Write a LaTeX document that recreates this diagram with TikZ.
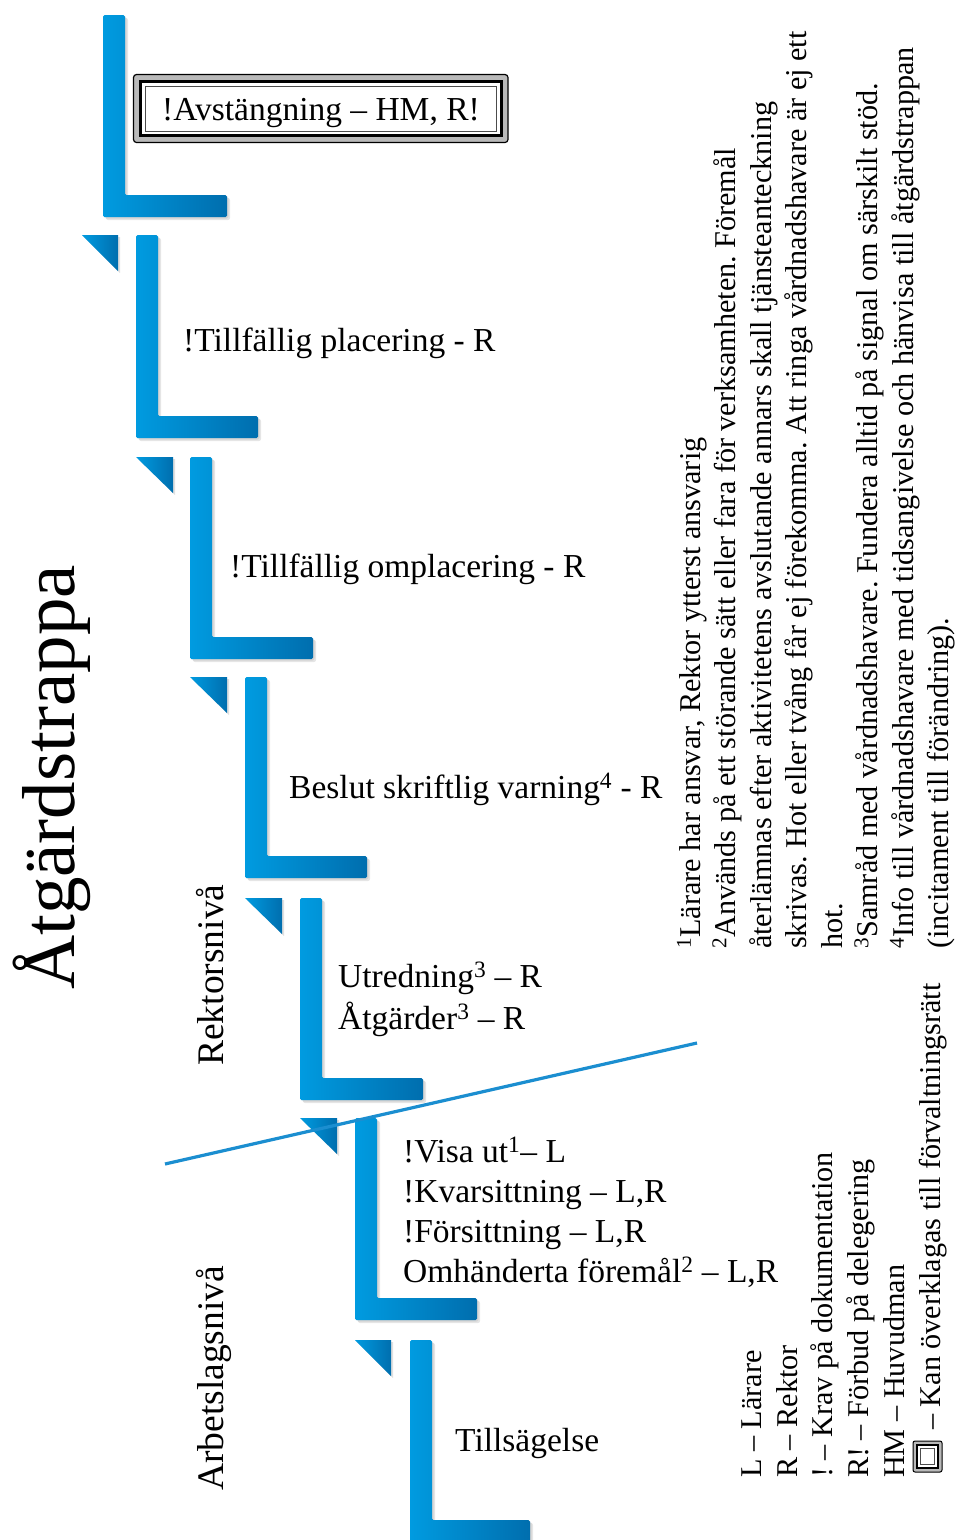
\documentclass[tikz,border=0pt]{standalone}
\usepackage{fontspec}
\setmainfont{Liberation Serif}
\frenchspacing
\definecolor{lb}{HTML}{009BE0}
\definecolor{db}{HTML}{006EAE}
\definecolor{lineblue}{HTML}{1B8ED0}
\newcommand\stair[4]{%
  \fill[black,opacity=.10,rounded corners=2] (#1+3,#2+3) -- (#1+25,#2+3) -- (#1+25,#3-19) -- (#4+3,#3-19) -- (#4+3,#3+3) -- (#1+3,#3+3) -- cycle;
  \fill[black,opacity=.08,rounded corners=2] (#1+1.5,#2+1.5) -- (#1+23.5,#2+1.5) -- (#1+23.5,#3-20.5) -- (#4+1.5,#3-20.5) -- (#4+1.5,#3+1.5) -- (#1+1.5,#3+1.5) -- cycle;
  \shade[left color=lb,middle color=lb,right color=db,rounded corners=1.5] (#1,#2) -- (#1+22,#2) -- (#1+22,#3-22) -- (#4,#3-22) -- (#4,#3) -- (#1,#3) -- cycle;}
\newcommand\stairtri[3]{%
  \fill[black,opacity=.12] (#1+2,#3+2) -- (#2+2,#3+2) -- (#2+2,#3+38) -- cycle;
  \shade[left color=lb,right color=db] (#1,#3) -- (#2,#3) -- (#2,#3+36) -- cycle;}
\begin{document}
\begin{tikzpicture}[x=1pt,y=-1pt,
  lbl/.style={font=\fontsize{33.5}{40}\selectfont, inner sep=0pt, anchor=base west},
  note/.style={font=\fontsize{30.2}{36}\selectfont, inner sep=0pt, anchor=base west, rotate=90},
  level/.style={font=\fontsize{37.5}{44}\selectfont, inner sep=0pt, anchor=base west, rotate=90}]
\useasboundingbox (0,0) rectangle (956,1540);
\fill[white] (0,0) rectangle (956,1540);

% steps
\stair{103}{15}{217}{227}
\stair{136}{235}{438}{258}
\stair{190}{457}{659}{313}
\stair{245}{677}{878}{367}
\stair{300}{898}{1100}{423}
\stair{355}{1118}{1320}{477}
\stair{410}{1340}{1542}{530}
\stairtri{82}{118}{235}
\stairtri{136}{173}{457}
\stairtri{190}{227}{677}
\stairtri{245}{282}{898}
\stairtri{300}{337}{1118}
\stairtri{355}{391}{1340}

% top box
\draw[line width=1.2pt, fill=gray!55, rounded corners=3pt] (133.5,74.5) rectangle (508,142.5);
\draw[line width=3pt, fill=white] (140.5,81.5) rectangle (501,135.5);
\draw[line width=0.8pt, gray!60!black] (145,86) rectangle (496.5,131);
\node[font=\fontsize{33.5}{40}\selectfont, inner sep=0pt, anchor=base] (avst) at (321,120) {!Avstängning – HM, R!};

% labels
\node[lbl] (t2) at (183,351) {!Tillfällig placering - R};
\node[lbl] (t3) at (230,577) {!Tillfällig omplacering - R};
\node[lbl] (t4) at (289,798) {Beslut skriftlig varning\textsuperscript{4} - R};
\node[lbl] (t5a) at (338,987) {Utredning\textsuperscript{3} – R};
\node[lbl] (t5b) at (338,1029) {Åtgärder\textsuperscript{3} – R};
\node[lbl] (t6a) at (403,1162) {!Visa ut\textsuperscript{1}– L};
\node[lbl] (t6b) at (403,1202) {!Kvarsittning – L,R};
\node[lbl] (t6c) at (403,1242) {!Försittning – L,R};
\node[lbl] (t6d) at (403,1282) {Omhänderta föremål\textsuperscript{2} – L,R};
\node[lbl] (t7) at (455,1451) {Tillsägelse};

% divider line
\coordinate (dl) at (165,1164);
\coordinate (dr) at (697,1043);
\draw[lineblue, line width=3.2pt] (dl) -- (dr);

% title and levels
\node[font=\fontsize{75}{80}\selectfont, inner sep=0pt, anchor=base west, rotate=90] (title) at (74,990) {Åtgärdstrappa};
\node[level] (rek) at (223,1066) {Rektorsnivå};
\node[level] (arb) at (223,1491) {Arbetslagsnivå};

% footnotes
\node[note] (f1) at (700,949) {\textsuperscript{1}Lärare har ansvar, Rektor ytterst ansvarig};
\node[note] (f2) at (735.5,949) {\textsuperscript{2}Används på ett störande sätt eller fara för verksamheten. Föremål};
\node[note] (f3) at (771,949) {återlämnas efter aktivitetens avslutande annars skall tjänsteanteckning};
\node[note] (f4) at (806.5,949) {skrivas. Hot eller tvång får ej förekomma. Att ringa vårdnadshavare är ej ett};
\node[note] (f5) at (842,949) {hot.};
\node[note] (f6) at (877.5,949) {\textsuperscript{3}Samråd med vårdnadshavare. Fundera alltid på signal om särskilt stöd.};
\node[note] (f7) at (913,949) {\textsuperscript{4}Info till vårdnadshavare med tidsangivelse och hänvisa till åtgärdstrappan};
\node[note] (f8) at (948.5,949) {(incitament till förändring).};

% legend
\node[note] (g1) at (761,1478) {L – Lärare};
\node[note] (g2) at (797,1478) {R – Rektor};
\node[note] (g3) at (832,1478) {! – Krav på dokumentation};
\node[note] (g4) at (868,1478) {R! – Förbud på delegering};
\node[note] (g5) at (904,1478) {HM – Huvudman};
\draw[line width=1pt, fill=gray!55, rounded corners=2pt] (913,1441) rectangle (942,1472);
\draw[line width=2pt, fill=white] (917,1445) rectangle (938,1468);
\draw[line width=0.6pt, gray!60!black] (920.5,1448.5) rectangle (934.5,1464.5);
\node[note] (g6) at (940,1430) {– Kan överklagas till förvaltningsrätt};
\end{tikzpicture}
\end{document}
